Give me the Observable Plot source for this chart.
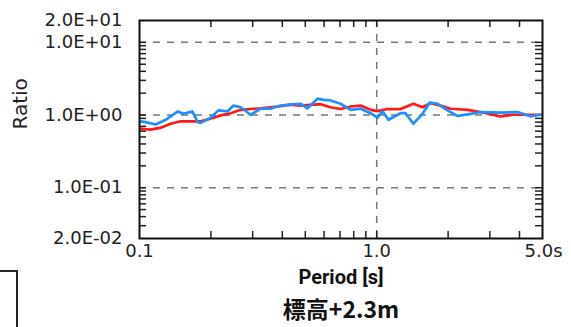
<!DOCTYPE html>
<html><head><meta charset="utf-8">
<script src="https://cdn.jsdelivr.net/npm/d3@7"></script>
<script src="https://cdn.jsdelivr.net/npm/@observablehq/plot@0.6"></script>
<style>
body{margin:0;background:#fff;overflow:hidden}
#wrap{position:relative;width:571px;height:327px;overflow:hidden}
#box{position:absolute;left:-10px;top:270px;width:24px;height:100px;border:2px solid #222}
</style>
</head><body><div id="wrap"><div id="box"></div></div>
<script>
const periodRed = [0.101,0.111,0.123,0.135,0.149,0.164,0.181,0.199,0.220,0.242,0.267,0.294,0.324,0.357,0.393,0.433,0.477,0.526,0.580,0.639,0.704,0.776,0.855,0.942,1.008,1.110,1.260,1.429,1.560,1.686,1.858,2.047,2.415,2.739,3.325,3.773,4.323,4.904];
const ratioRed = [0.65,0.63,0.67,0.76,0.82,0.82,0.82,0.89,0.99,1.06,1.18,1.21,1.24,1.28,1.33,1.39,1.35,1.38,1.41,1.28,1.21,1.31,1.35,1.18,1.13,1.21,1.21,1.43,1.28,1.46,1.35,1.22,1.18,1.10,0.96,1.01,1.01,1.01];
const periodBlue = [0.101,0.106,0.117,0.129,0.145,0.153,0.167,0.176,0.181,0.199,0.215,0.235,0.249,0.267,0.294,0.324,0.357,0.393,0.433,0.477,0.511,0.563,0.597,0.639,0.704,0.776,0.855,0.942,1.008,1.058,1.121,1.260,1.322,1.429,1.560,1.670,1.805,1.989,2.191,2.486,2.739,3.325,3.923,4.449,4.904];
const ratioBlue = [0.82,0.80,0.74,0.86,1.12,1.04,1.12,0.80,0.78,0.91,1.16,1.12,1.35,1.28,1.01,1.22,1.22,1.35,1.39,1.43,1.24,1.68,1.62,1.59,1.43,1.18,1.22,1.06,0.92,1.13,0.86,1.06,1.06,0.76,1.04,1.48,1.43,1.16,0.97,1.04,1.10,1.08,1.10,0.96,1.01];

const yTickValues = [20, 10, 1, 0.1, 0.02];
const yTickLabels = ["2.0E+01","1.0E+01","1.0E+00","1.0E-01","2.0E-02"];
const xTickValues = [0.1, 1];
const xTickLabels = ["0.1","1.0"];
const xEndValue = [5];
const xEndLabel = ["5.0s"];
const xMinorTicks = [0.2,0.3,0.4,0.5,0.6,0.7,0.8,0.9,1,2,3,4];
const yMinorTicks = [0.03,0.04,0.05,0.06,0.07,0.08,0.09,0.1,0.2,0.3,0.4,0.5,0.6,0.7,0.8,0.9,1,2,3,4,5,6,7,8,9,10];
const yGrid = [10, 1, 0.1];
const xGrid = [1];
const xLabel = "Period [s]";
const yLabel = "Ratio";
const title = "標高+2.3m";

const red = periodRed.map((p,i)=>({p, r: ratioRed[i]}));
const blue = periodBlue.map((p,i)=>({p, r: ratioBlue[i]}));
const yLab = new Map(yTickValues.map((v,i)=>[v, yTickLabels[i]]));
const xLab = new Map(xTickValues.map((v,i)=>[v, xTickLabels[i]]));

const W = 571, H = 327, mT = 20, mB = 89, mL = 139, mR = 29;
const tickLen = 7;
const tickStyle = {stroke: "#222", strokeWidth: 1.5};
const tickFont = {fontSize: 18, fontFamily: "DejaVu Sans", fill: "#222"};

const chart = Plot.plot({
  width: W, height: H,
  marginTop: mT, marginBottom: mB, marginLeft: mL, marginRight: mR,
  style: {background: "white", overflow: "visible"},
  x: {type: "log", domain: [0.1, 5], axis: null},
  y: {type: "log", domain: [0.02, 20], axis: null},
  marks: [
    Plot.gridY(yGrid, {stroke: "#777", strokeOpacity: 1, strokeWidth: 1.5, strokeDasharray: "7,7"}),
    Plot.gridX(xGrid, {stroke: "#777", strokeOpacity: 1, strokeWidth: 1.5, strokeDasharray: "7,7"}),
    Plot.tickX(xMinorTicks, {x: d => d, insetTop: H - mT - mB - tickLen, ...tickStyle}),
    Plot.tickX(xMinorTicks, {x: d => d, insetBottom: H - mT - mB - tickLen, ...tickStyle}),
    Plot.tickY(yMinorTicks, {y: d => d, insetRight: W - mL - mR - tickLen, ...tickStyle}),
    Plot.tickY(yMinorTicks, {y: d => d, insetLeft: W - mL - mR - tickLen, ...tickStyle}),
    Plot.text(yTickValues, {y: d => d, frameAnchor: "left", text: d => yLab.get(d), textAnchor: "end", dx: -17, ...tickFont}),
    Plot.text(xTickValues, {x: d => d, frameAnchor: "bottom", text: d => xLab.get(d), lineAnchor: "top", dy: 6, textAnchor: "middle", ...tickFont}),
    Plot.text(xEndValue, {x: d => d, frameAnchor: "bottom", text: (d,i) => xEndLabel[i], lineAnchor: "top", dy: 6, textAnchor: "start", dx: -18, ...tickFont}),
    Plot.line(red, {x: "p", y: "r", stroke: "#ff1a1a", strokeWidth: 2.7}),
    Plot.line(blue, {x: "p", y: "r", stroke: "#1e8fff", strokeWidth: 2.7}),
    Plot.frame({stroke: "#111", strokeWidth: 2}),
    Plot.text([yLabel], {frameAnchor: "left", rotate: -90, dx: -119, fontSize: 20, fontFamily: "DejaVu Sans", fill: "#222"}),
    Plot.text([xLabel], {frameAnchor: "bottom", dy: 45, fontSize: 20, fontWeight: "bold", fontFamily: "Roboto", fill: "#111"}),
    Plot.text([title], {frameAnchor: "bottom", dy: 79, fontSize: 23, fontWeight: "bold", fontFamily: "Noto Sans CJK JP", fill: "#111"})
  ]
});
document.getElementById("wrap").appendChild(chart);
</script>
</body></html>
